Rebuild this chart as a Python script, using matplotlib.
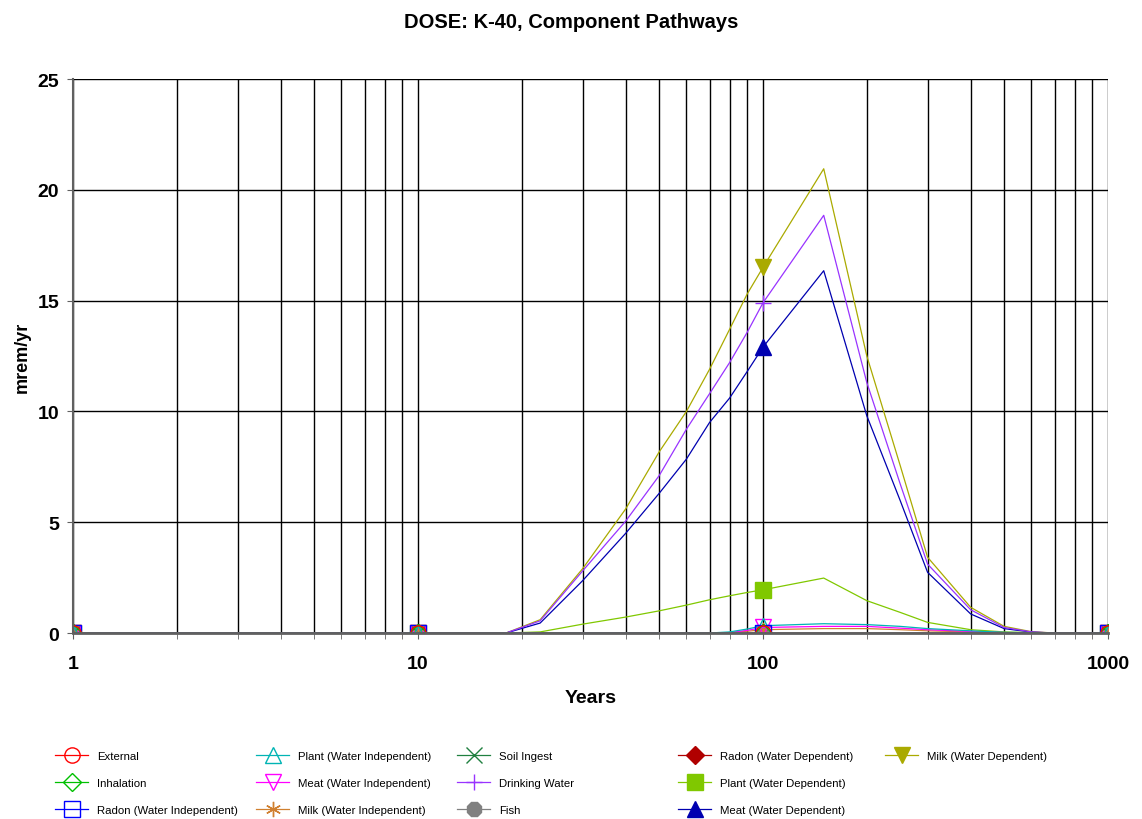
import numpy as np
import matplotlib
matplotlib.use("Agg")
import matplotlib.pyplot as plt
from matplotlib.ticker import FixedLocator, FixedFormatter, LogLocator, NullFormatter

plt.rcParams['font.family'] = ['Liberation Sans', 'DejaVu Sans']

# time points (years) and dose by pathway (mrem/yr)
years = [1, 10, 18, 22.6, 30, 40, 50, 60, 70, 80, 90, 100, 150, 200, 250, 300, 400, 500, 600, 700, 1000]

zero = [0.0] * len(years)
external = zero
inhalation = zero
radon_wi = zero
plant_wi = [0, 0, 0, 0, 0, 0, 0, 0, 0, 0.05, 0.18, 0.33, 0.42, 0.38, 0.30, 0.20, 0.10, 0.03, 0.01, 0, 0]
meat_wi = [0, 0, 0, 0, 0, 0, 0, 0, 0, 0.02, 0.12, 0.25, 0.30, 0.30, 0.22, 0.15, 0.07, 0.02, 0.01, 0, 0]
milk_wi = [0, 0, 0, 0, 0, 0, 0, 0, 0, 0.02, 0.08, 0.15, 0.20, 0.20, 0.15, 0.10, 0.05, 0.01, 0, 0, 0]
soil_ingest = zero
drinking_water = [0, 0, 0, 0.55, 2.8, 5.05, 7.1, 9.2, 10.8, 12.2, 13.57, 14.9, 18.85, 11.3, 6.72, 3.11, 1.05, 0.25, 0.05, 0, 0]
fish = zero
radon_wd = zero
plant_wd = [0, 0, 0, 0.05, 0.4, 0.72, 1.0, 1.26, 1.5, 1.68, 1.83, 1.95, 2.48, 1.46, 0.93, 0.48, 0.15, 0.05, 0.02, 0, 0]
meat_wd = [0, 0, 0, 0.45, 2.36, 4.5, 6.3, 7.85, 9.5, 10.6, 11.8, 12.9, 16.35, 9.8, 5.97, 2.74, 0.86, 0.2, 0.04, 0, 0]
milk_wd = [0, 0, 0, 0.6, 2.9, 5.6, 8.17, 10.0, 11.9, 13.7, 15.3, 16.5, 20.95, 12.5, 7.55, 3.42, 1.16, 0.3, 0.06, 0, 0]

labels = ["External", "Inhalation", "Radon (Water Independent)",
          "Plant (Water Independent)", "Meat (Water Independent)", "Milk (Water Independent)",
          "Soil Ingest", "Drinking Water", "Fish",
          "Radon (Water Dependent)", "Plant (Water Dependent)", "Meat (Water Dependent)",
          "Milk (Water Dependent)"]
series = [external, inhalation, radon_wi, plant_wi, meat_wi, milk_wi, soil_ingest,
          drinking_water, fish, radon_wd, plant_wd, meat_wd, milk_wd]

# (colour, marker, filled)
styles = [
    ("#FF0000", "o", False),
    ("#00C000", "D", False),
    ("#0000FF", "s", False),
    ("#00B4B4", "^", False),
    ("#FF00FF", "v", False),
    ("#D08030", (6, 2, 0), True),
    ("#208040", "x", True),
    ("#9933FF", "+", True),
    ("#808080", "8", True),
    ("#B00000", "D", True),
    ("#80C800", "s", True),
    ("#0000B0", "^", True),
    ("#AAAA00", "v", True),
]

mark_idx = [years.index(t) for t in (1, 10, 100, 1000)]

fig = plt.figure(figsize=(11.42, 8.2), dpi=100)
ax = fig.add_axes([0.0639, 0.2268, 0.9063, 0.6756])

handles = {}
# draw last series first so the first ones sit on top
for lab, vals, (col, mk, filled) in reversed(list(zip(labels, series, styles))):
    ms = 9 if mk == "D" else 11
    line, = ax.plot(years, vals, color=col, lw=0.9, marker=mk, markevery=mark_idx,
                    markersize=ms, markerfacecolor=col if filled else "none",
                    markeredgecolor=col, markeredgewidth=1.0, label=lab)
    handles[lab] = line

ax.set_xscale("log")
ax.set_xlim(1, 1000)
ax.set_ylim(0, 25)
ax.set_yticks([0, 5, 10, 15, 20, 25])
ax.xaxis.set_major_locator(FixedLocator([1, 10, 100, 1000]))
ax.xaxis.set_major_formatter(FixedFormatter(["1", "10", "100", "1000"]))
ax.xaxis.set_minor_locator(LogLocator(base=10, subs=np.arange(2, 10)))
ax.xaxis.set_minor_formatter(NullFormatter())

ax.grid(True, which="major", color="black", lw=1.0)
ax.grid(True, which="minor", axis="x", color="black", lw=1.0)
ax.set_axisbelow(True)

for s in ("top", "right"):
    ax.spines[s].set_visible(False)
ax.spines["bottom"].set_color("#606060")
ax.spines["bottom"].set_linewidth(2)
ax.spines["left"].set_color("#606060")
ax.spines["left"].set_linewidth(1.5)

ax.tick_params(axis="both", which="both", direction="out", length=4, color="#606060")
ax.tick_params(axis="x", which="major", pad=12)
ax.tick_params(axis="y", pad=6)
for t in ax.get_xticklabels() + ax.get_yticklabels():
    t.set_fontsize(14)
    t.set_fontweight("bold")

ax.set_xlabel("Years", fontsize=14, fontweight="bold", labelpad=12)
ax.set_ylabel("mrem/yr", fontsize=13, fontweight="bold", labelpad=5)

fig.suptitle("DOSE: K-40, Component Pathways", fontsize=14.5, fontweight="bold",
             y=0.973, va="center")

# legend: five columns placed side by side
col_x = [55, 256, 457, 678, 885]
for c, x0 in enumerate(col_x):
    labs = labels[3 * c:3 * c + 3]
    leg = fig.legend([handles[l] for l in labs], labs, loc="upper left",
                     bbox_to_anchor=(x0 / 1142, 1 - 752 / 820), frameon=False,
                     fontsize=8.2, handlelength=2.9, handletextpad=0.8,
                     labelspacing=1.5, borderpad=0, borderaxespad=0)

fig.savefig("out.png", dpi=100)
